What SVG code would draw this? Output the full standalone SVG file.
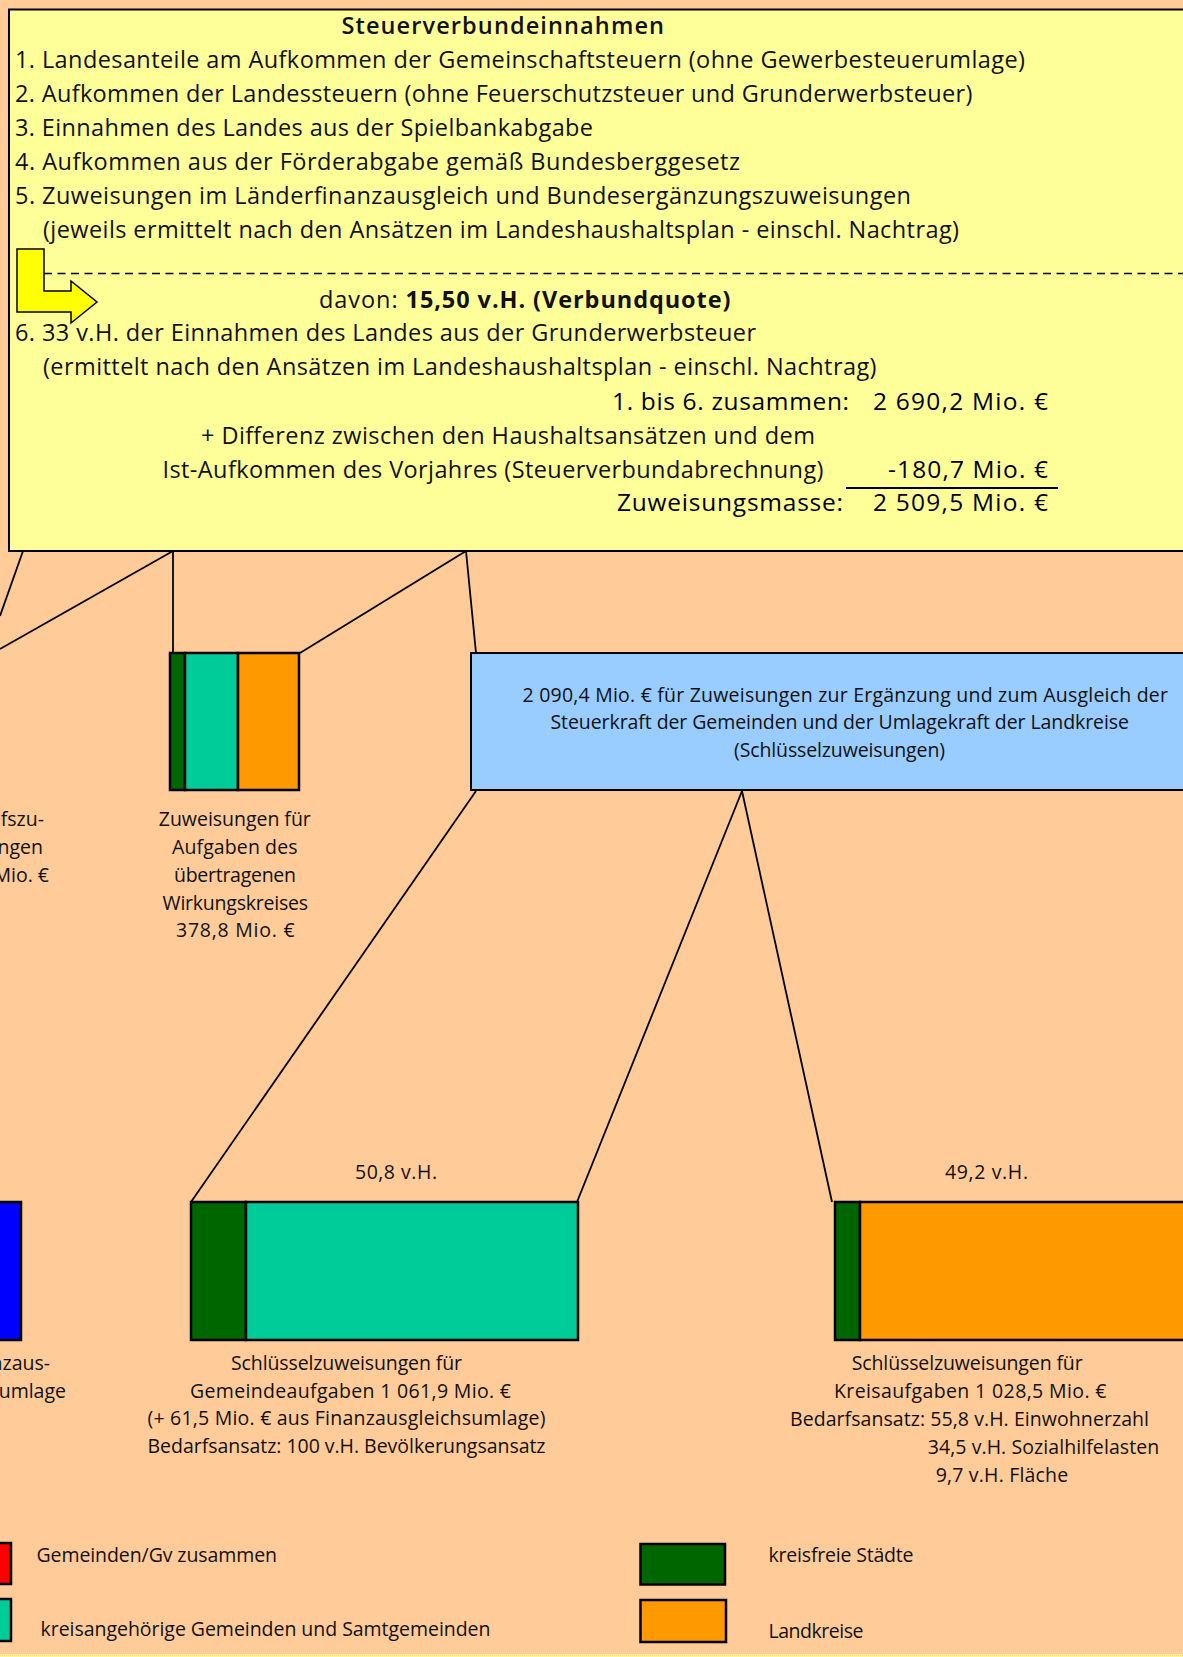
<svg xmlns="http://www.w3.org/2000/svg" width="1183" height="1657" viewBox="0 0 1183 1657">
<style>
text{font-family:"Open Sans","Noto Sans",sans-serif;fill:#111}
.b{font-size:23.5px}
.s{font-size:19.5px}
.bd{font-weight:700}
.sb{font-weight:600}
.md{font-weight:500;font-size:24.5px;fill:#000}
.box{stroke:#000;stroke-width:2}
.bar{stroke:#000;stroke-width:2.5}
.con line{stroke:#000;stroke-width:1.8;fill:none}
</style>
<rect x="0" y="0" width="1183" height="1657" fill="#FFCC99"/>
<rect x="0" y="1654" width="1183" height="3" fill="#FFF4A8"/>
<line x1="0" y1="1655.5" x2="1183" y2="1655.5" stroke="#FFE066" stroke-width="1" stroke-dasharray="1 1"/>

<g id="connectors" class="con">
<line x1="23" y1="551" x2="0" y2="616"/>
<line x1="173" y1="551" x2="0" y2="649"/>
<line x1="173" y1="551" x2="173" y2="653"/>
<line x1="466" y1="551" x2="300" y2="653"/>
<line x1="466" y1="551" x2="476" y2="653"/>
<line x1="476" y1="791" x2="191" y2="1202"/>
<line x1="742" y1="791" x2="577" y2="1202"/>
<line x1="742" y1="791" x2="832" y2="1202"/>
</g>

<g id="steuerverbund">
<rect class="box" x="9" y="9.5" width="1200" height="541.5" fill="#FFFF99"/>
<text class="b sb" x="341.5" y="34" textLength="322.5">Steuerverbundeinnahmen</text>
<text class="b" x="15" y="68" textLength="1010">1. Landesanteile am Aufkommen der Gemeinschaftsteuern (ohne Gewerbesteuerumlage)</text>
<text class="b" x="15" y="102" textLength="957.5">2. Aufkommen der Landessteuern (ohne Feuerschutzsteuer und Grunderwerbsteuer)</text>
<text class="b" x="15" y="136" textLength="578">3. Einnahmen des Landes aus der Spielbankabgabe</text>
<text class="b" x="15" y="170" textLength="725">4. Aufkommen aus der Förderabgabe gemäß Bundesberggesetz</text>
<text class="b" x="15" y="204" textLength="896">5. Zuweisungen im Länderfinanzausgleich und Bundesergänzungszuweisungen</text>
<text class="b" x="43" y="238" textLength="916">(jeweils ermittelt nach den Ansätzen im Landeshaushaltsplan - einschl. Nachtrag)</text>
<line x1="44" y1="273.5" x2="1183" y2="273.5" stroke="#000" stroke-width="1.5" stroke-dasharray="8 5.5"/>
<polygon points="17,249 44,249 44,291 71,291 71,281 97,302 71,323 71,312 17,312" fill="#FFFF00" stroke="#000" stroke-width="1.5"/>
<text class="b" x="319" y="307.5" textLength="411.5">davon: <tspan class="bd">15,50 v.H. (Verbundquote)</tspan></text>
<text class="b" x="15" y="341" textLength="741">6. 33 v.H. der Einnahmen des Landes aus der Grunderwerbsteuer</text>
<text class="b" x="43" y="375" textLength="833.5">(ermittelt nach den Ansätzen im Landeshaushaltsplan - einschl. Nachtrag)</text>
<text class="md" x="612" y="410" textLength="237">1. bis 6. zusammen:</text>
<text class="md" x="873" y="410" textLength="175">2 690,2 Mio. €</text>
<text class="b" x="201" y="444" textLength="614">+ Differenz zwischen den Haushaltsansätzen und dem</text>
<text class="b" x="162.5" y="478" textLength="661">Ist-Aufkommen des Vorjahres (Steuerverbundabrechnung)</text>
<text class="md" x="888" y="478" textLength="160">-180,7 Mio. €</text>
<line x1="846" y1="488" x2="1058" y2="488" stroke="#000" stroke-width="2"/>
<text class="md" x="617" y="511" textLength="226">Zuweisungsmasse:</text>
<text class="md" x="873" y="511" textLength="175">2 509,5 Mio. €</text>
</g>

<g id="bedarfszuweisungen">
<text class="s" x="44" y="826" text-anchor="end">fszu-</text>
<text class="s" x="43" y="854" text-anchor="end">ngen</text>
<text class="s" x="49" y="882" text-anchor="end">Mio. €</text>
</g>

<g id="uebertragener-wirkungskreis">
<rect class="bar" x="170" y="653" width="15" height="137" fill="#006600"/>
<rect class="bar" x="185" y="653" width="53" height="137" fill="#00CC99"/>
<rect class="bar" x="238" y="653" width="61" height="137" fill="#FF9900"/>
<text class="s" x="158.8" y="826" textLength="152">Zuweisungen für</text>
<text class="s" x="172" y="854" textLength="125.5">Aufgaben des</text>
<text class="s" x="174" y="882" textLength="122">übertragenen</text>
<text class="s" x="162.6" y="909.5" textLength="145.4">Wirkungskreises</text>
<text class="s" x="176" y="937" textLength="118.6">378,8 Mio. €</text>
</g>

<g id="schluesselzuweisungen">
<rect class="box" x="471" y="653" width="740" height="137" fill="#99CCFF"/>
<text class="s" x="522.5" y="702" textLength="645.5">2 090,4 Mio. € für Zuweisungen zur Ergänzung und zum Ausgleich der</text>
<text class="s" x="550.5" y="729" textLength="578.5">Steuerkraft der Gemeinden und der Umlagekraft der Landkreise</text>
<text class="s" x="734" y="756.5" textLength="211">(Schlüsselzuweisungen)</text>
</g>

<g id="finanzausgleichsumlage">
<rect class="bar" x="-10" y="1202" width="31" height="138" fill="#0000FF"/>
<text class="s" x="50" y="1370" text-anchor="end">nzaus-</text>
<text class="s" x="66" y="1397.5" text-anchor="end">umlage</text>
</g>

<g id="gemeindeaufgaben">
<text class="s" x="355" y="1179" textLength="82">50,8 v.H.</text>
<rect class="bar" x="191" y="1202" width="55" height="138" fill="#006600"/>
<rect class="bar" x="246" y="1202" width="332" height="138" fill="#00CC99"/>
<text class="s" x="231" y="1370" textLength="231">Schlüsselzuweisungen für</text>
<text class="s" x="190" y="1397.5" textLength="321">Gemeindeaufgaben 1 061,9 Mio. €</text>
<text class="s" x="147.5" y="1425" textLength="398">(+ 61,5 Mio. € aus Finanzausgleichsumlage)</text>
<text class="s" x="147.5" y="1453" textLength="398">Bedarfsansatz: 100 v.H. Bevölkerungsansatz</text>
</g>

<g id="kreisaufgaben">
<text class="s" x="945" y="1179" textLength="83">49,2 v.H.</text>
<rect class="bar" x="835" y="1202" width="25" height="138" fill="#006600"/>
<rect class="bar" x="860" y="1202" width="340" height="138" fill="#FF9900"/>
<text class="s" x="851.7" y="1370" textLength="231">Schlüsselzuweisungen für</text>
<text class="s" x="834" y="1398" textLength="272.5">Kreisaufgaben 1 028,5 Mio. €</text>
<text class="s" x="790" y="1426" textLength="359">Bedarfsansatz: 55,8 v.H. Einwohnerzahl</text>
<text class="s" x="927.7" y="1454" textLength="231.5">34,5 v.H. Sozialhilfelasten</text>
<text class="s" x="935.7" y="1481.5" textLength="132.5">9,7 v.H. Fläche</text>
</g>

<g id="legend">
<rect class="bar" x="-10" y="1543" width="21" height="41" fill="#FF0000"/>
<text class="s" x="36.5" y="1562" textLength="240.5">Gemeinden/Gv zusammen</text>
<rect class="bar" x="-10" y="1599" width="21" height="42" fill="#00CC99"/>
<text class="s" x="40.5" y="1636" textLength="450">kreisangehörige Gemeinden und Samtgemeinden</text>
<rect class="bar" x="640.5" y="1544" width="84.5" height="40.5" fill="#006600"/>
<text class="s" x="768.5" y="1562" textLength="145">kreisfreie Städte</text>
<rect class="bar" x="640.5" y="1600" width="85.5" height="42" fill="#FF9900"/>
<text class="s" x="768.5" y="1637.5" textLength="95">Landkreise</text>
</g>
</svg>
